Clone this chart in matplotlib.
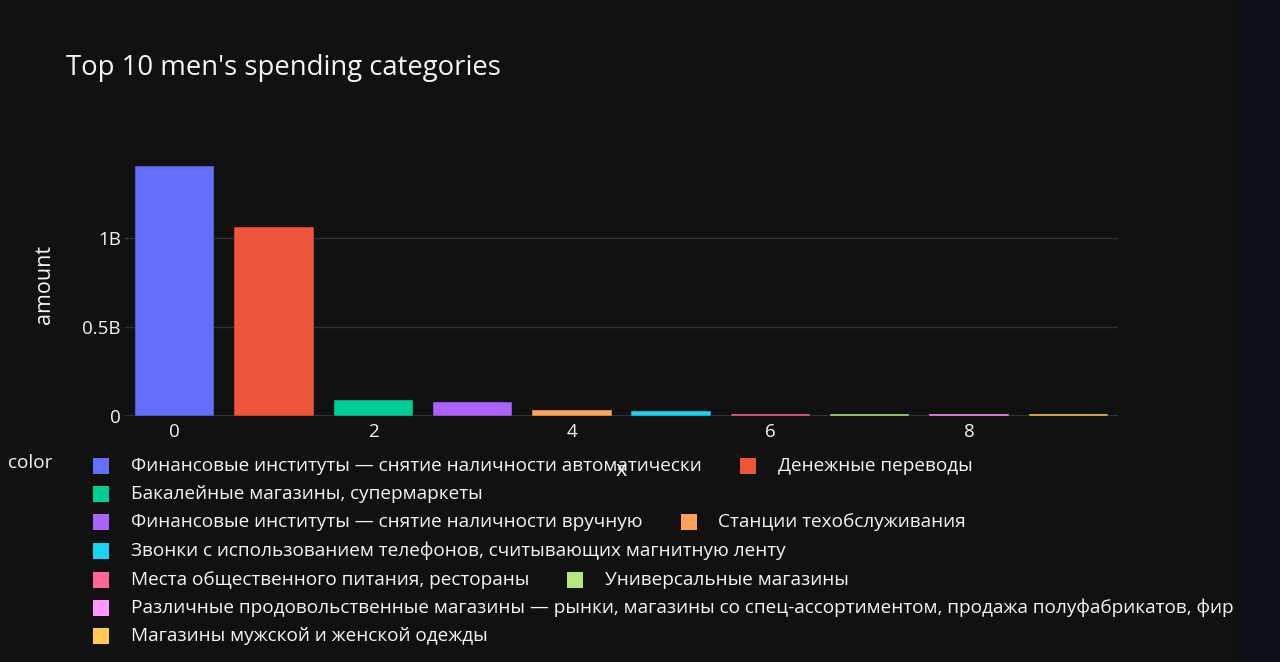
import matplotlib
matplotlib.use("Agg")
import matplotlib.pyplot as plt
from matplotlib.patches import Rectangle

categories = [
    "Финансовые институты — снятие наличности автоматически",
    "Денежные переводы",
    "Бакалейные магазины, супермаркеты",
    "Финансовые институты — снятие наличности вручную",
    "Станции техобслуживания",
    "Звонки с использованием телефонов, считывающих магнитную ленту",
    "Места общественного питания, рестораны",
    "Универсальные магазины",
    "Различные продовольственные магазины — рынки, магазины со спец-ассортиментом, продажа полуфабрикатов, фир",
    "Магазины мужской и женской одежды",
]
x_index = list(range(10))
amounts = [1.41e9, 1.066e9, 0.088e9, 0.078e9, 0.033e9, 0.027e9, 0.013e9, 0.012e9, 0.012e9, 0.011e9]
colors = ["#636EFA", "#EF553B", "#00CC96", "#AB63FA", "#FFA15A",
          "#19D3F3", "#FF6692", "#B6E880", "#FF97FF", "#FECB52"]
y_ticks = [0, 0.5e9, 1e9]
y_tick_labels = ["0", "0.5B", "1B"]
x_ticks = [0, 2, 4, 6, 8]
legend_rows = [[0, 1], [2], [3, 4], [5], [6, 7], [8], [9]]

BG = "#111111"
GRID = "#283442"
TXT = "#f2f5fa"
FONT = ["Open Sans", "DejaVu Sans"]
plt.rcParams["font.family"] = FONT

W, H = 1280, 662
fig = plt.figure(figsize=(W / 100, H / 100), dpi=100, facecolor=BG)

left, right, top, bottom = 125, 1118, 153, 416
ax = fig.add_axes([left / W, (H - bottom) / H, (right - left) / W, (bottom - top) / H])
ax.set_facecolor(BG)

ax.bar(x_index, amounts, width=0.8, color=colors, edgecolor=BG, linewidth=0.3, zorder=3)
ax.set_xlim(-0.5, 9.5)
ax.set_ylim(0, max(amounts) * 1.05)

ax.set_yticks(y_ticks)
ax.set_yticklabels(y_tick_labels)
ax.set_xticks(x_ticks)
ax.set_xticklabels([str(t) for t in x_ticks])
ax.tick_params(axis="both", length=0, labelsize=13.5, colors=TXT)
ax.tick_params(axis="y", pad=3)
ax.tick_params(axis="x", pad=5)
ax.grid(axis="y", color=GRID, linewidth=1, zorder=0)
ax.axhline(0, color=GRID, linewidth=2.2, zorder=1)
ax.set_axisbelow(True)
for s in ax.spines.values():
    s.set_visible(False)

ax.set_ylabel("amount", fontsize=15.5, color=TXT, labelpad=20)

fig.text(66 / W, 1 - 68 / H, "Top 10 men's spending categories", fontsize=19.8,
         color=TXT, ha="left", va="center")

# x axis title (overlapped by legend in the original)
fig.text(621 / W, 1 - 471 / H, "x", fontsize=15.5, color=TXT, ha="center", va="center", zorder=1)

# legend
fig.text(8 / W, 1 - 463 / H, "color", fontsize=13.7, color=TXT, ha="left", va="center")
row_y = [466, 494, 522, 551, 580, 608, 636]
fig.canvas.draw()
renderer = fig.canvas.get_renderer()
msize = 16
for ry, row in zip(row_y, legend_rows):
    mx = 93
    for idx in row:
        fig.patches.append(Rectangle((mx / W, 1 - (ry + msize / 2) / H), msize / W, msize / H,
                                     transform=fig.transFigure, facecolor=colors[idx],
                                     edgecolor="none", zorder=5))
        t = fig.text((mx + 38) / W, 1 - ry / H, categories[idx], fontsize=13.7, color=TXT,
                     ha="left", va="center", zorder=5)
        bb = t.get_window_extent(renderer)
        mx = bb.x1 + 38

# screenshot frame strip on the right
fig.patches.append(Rectangle((1238 / W, 0), 42 / W, 1, transform=fig.transFigure,
                             facecolor="#0d1117", edgecolor="none", zorder=10))

fig.savefig("out.png", dpi=100, facecolor=BG)
